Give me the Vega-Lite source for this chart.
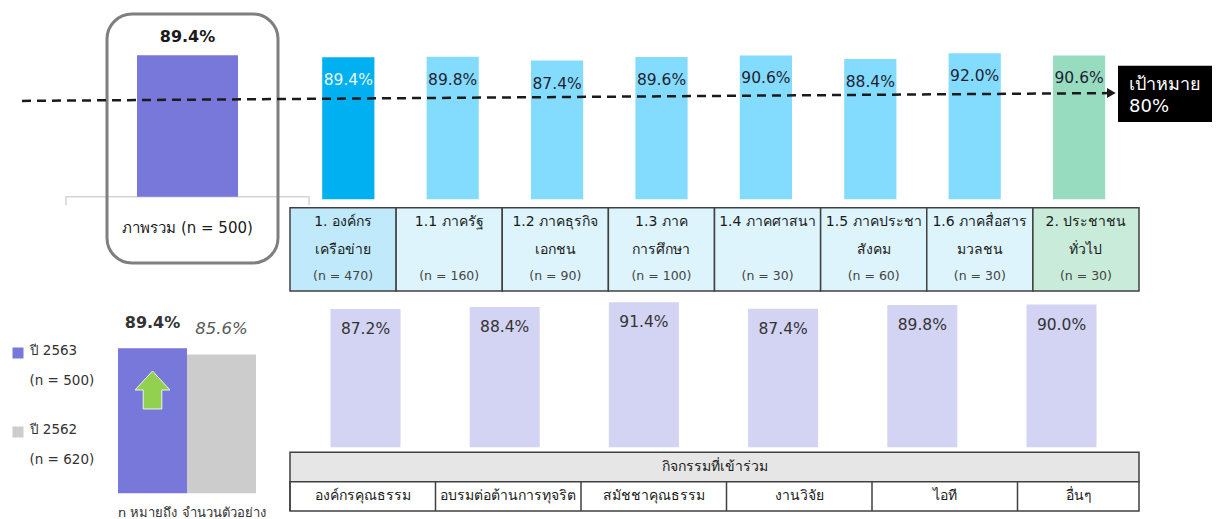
{
  "$schema": "https://vega.github.io/schema/vega-lite/v6.json",
  "width": 1223,
  "height": 519,
  "padding": 0,
  "autosize": {"type": "none"},
  "background": "white",
  "config": {"view": {"stroke": null}, "font": "DejaVu Sans", "text": {"font": "DejaVu Sans"}},
  "datasets": {
    "overall": [{"label": "ภาพรวม (n = 500)", "pct": 0.894}],
    "groups": [
      {"group": "1. องค์กรเครือข่าย", "lines": ["1. องค์กร", "เครือข่าย"], "n": "(n = 470)", "pct": 0.894, "kind": "องค์กรเครือข่าย"},
      {"group": "1.1 ภาครัฐ", "lines": ["1.1 ภาครัฐ", ""], "n": "(n = 160)", "pct": 0.898, "kind": "ภาคย่อย"},
      {"group": "1.2 ภาคธุรกิจเอกชน", "lines": ["1.2 ภาคธุรกิจ", "เอกชน"], "n": "(n = 90)", "pct": 0.874, "kind": "ภาคย่อย"},
      {"group": "1.3 ภาคการศึกษา", "lines": ["1.3 ภาค", "การศึกษา"], "n": "(n = 100)", "pct": 0.896, "kind": "ภาคย่อย"},
      {"group": "1.4 ภาคศาสนา", "lines": ["1.4 ภาคศาสนา", ""], "n": "(n = 30)", "pct": 0.906, "kind": "ภาคย่อย"},
      {"group": "1.5 ภาคประชาสังคม", "lines": ["1.5 ภาคประชา", "สังคม"], "n": "(n = 60)", "pct": 0.884, "kind": "ภาคย่อย"},
      {"group": "1.6 ภาคสื่อสารมวลชน", "lines": ["1.6 ภาคสื่อสาร", "มวลชน"], "n": "(n = 30)", "pct": 0.92, "kind": "ภาคย่อย"},
      {"group": "2. ประชาชนทั่วไป", "lines": ["2. ประชาชน", "ทั่วไป"], "n": "(n = 30)", "pct": 0.906, "kind": "ประชาชนทั่วไป"}
    ],
    "target": [{"label": "เป้าหมาย", "value": 0.8}],
    "activities": [
      {"activity": "องค์กรคุณธรรม", "pct": 0.872},
      {"activity": "อบรมต่อต้านการทุจริต", "pct": 0.884},
      {"activity": "สมัชชาคุณธรรม", "pct": 0.914},
      {"activity": "งานวิจัย", "pct": 0.874},
      {"activity": "ไอที", "pct": 0.898},
      {"activity": "อื่นๆ", "pct": 0.9}
    ],
    "header": [{"header": "กิจกรรมที่เข้าร่วม"}],
    "years": [
      {"year": "ปี 2563", "n": "(n = 500)", "pct": 0.894},
      {"year": "ปี 2562", "n": "(n = 620)", "pct": 0.856}
    ]
  },
  "resolve": {"scale": {"x": "independent", "y": "independent", "color": "independent"}},
  "layer": [
    {
      "data": {"name": "overall"},
      "encoding": {
        "x": {"field": "label", "type": "nominal", "sort": null, "axis": null, "scale": {"type": "band", "range": [137, 238], "paddingInner": 0, "paddingOuter": 0}}
      },
      "layer": [
        {
          "mark": {"type": "point", "shape": "M-1,0.07V0H1V0.07", "size": 59049, "filled": false, "stroke": "#d4d4d4", "strokeWidth": 1.5, "opacity": 1},
          "encoding": {"y": {"datum": 0, "type": "quantitative", "axis": null, "scale": {"domain": [0, 1], "range": [196.7, 38.5]}}}
        },
        {
          "mark": {"type": "bar", "color": "#7878db"},
          "encoding": {"y": {"field": "pct", "type": "quantitative", "axis": null, "scale": {"domain": [0, 1], "range": [196.7, 38.5]}}}
        },
        {
          "mark": {"type": "text", "fontSize": 16, "fontWeight": "bold", "dy": -18.5, "color": "#1a1a1a"},
          "encoding": {
            "y": {"field": "pct", "type": "quantitative", "axis": null, "scale": {"domain": [0, 1], "range": [196.7, 38.5]}},
            "text": {"field": "pct", "format": ".1%"}
          }
        },
        {
          "mark": {"type": "point", "shape": "M-0.555,-1.827H0.655A0.25,0.25 0 0 1 0.905,-1.577V0.413A0.25,0.25 0 0 1 0.655,0.663H-0.555A0.25,0.25 0 0 1 -0.805,0.413V-1.577A0.25,0.25 0 0 1 -0.555,-1.827Z", "size": 40000, "filled": false, "stroke": "#7f7f7f", "strokeWidth": 3, "opacity": 1},
          "encoding": {"y": {"datum": 0, "type": "quantitative", "axis": null, "scale": {"domain": [0, 1], "range": [196.7, 38.5]}}}
        },
        {
          "mark": {"type": "text", "fontSize": 15, "dy": 31.6, "color": "#1a1a1a"},
          "encoding": {
            "y": {"datum": 0, "type": "quantitative", "axis": null, "scale": {"domain": [0, 1], "range": [196.7, 38.5]}},
            "text": {"field": "label"}
          }
        }
      ]
    },
    {
      "data": {"name": "groups"},
      "encoding": {
        "x": {"field": "group", "type": "nominal", "sort": null, "axis": null, "scale": {"type": "band", "range": [296.1, 1131.3], "paddingInner": 0, "paddingOuter": 0}},
        "y": {"field": "pct", "type": "quantitative", "axis": null, "scale": {"domain": [0, 1], "range": [199.3, 40.5]}}
      },
      "layer": [
        {
          "mark": {"type": "bar", "width": {"band": 0.5}},
          "encoding": {"color": {"field": "kind", "type": "nominal", "legend": null, "scale": {"domain": ["องค์กรเครือข่าย", "ภาคย่อย", "ประชาชนทั่วไป"], "range": ["#00b0f0", "#83dcfe", "#97dcbf"]}}}
        },
        {
          "mark": {"type": "text", "fontSize": 15.5, "dy": 23},
          "encoding": {
            "text": {"field": "pct", "format": ".1%"},
            "color": {"condition": {"test": "datum.kind === 'องค์กรเครือข่าย'", "value": "#eaf8ff"}, "value": "#1f1f33"}
          }
        }
      ]
    },
    {
      "data": {"name": "groups"},
      "encoding": {
        "x": {"field": "group", "type": "nominal", "sort": null, "axis": null, "scale": {"type": "band", "range": [290, 1139], "paddingInner": 0, "paddingOuter": 0}},
        "y": {"datum": "กลุ่มผู้ตอบ", "type": "nominal", "axis": null, "scale": {"type": "band", "domain": ["กลุ่มผู้ตอบ"], "range": [207.7, 291], "paddingInner": 0, "paddingOuter": 0}}
      },
      "layer": [
        {
          "mark": {"type": "rect", "stroke": "#404040", "strokeWidth": 1.5},
          "encoding": {"color": {"field": "kind", "type": "nominal", "legend": null, "scale": {"domain": ["องค์กรเครือข่าย", "ภาคย่อย", "ประชาชนทั่วไป"], "range": ["#c0eafb", "#ddf4fd", "#c8ecd9"]}}}
        },
        {
          "mark": {"type": "text", "fontSize": 14, "lineHeight": 28.5, "dy": -27.7, "color": "#1a1a1a"},
          "encoding": {"text": {"field": "lines"}}
        },
        {
          "mark": {"type": "text", "fontSize": 12.5, "dy": 27, "color": "#444444"},
          "encoding": {"text": {"field": "n"}}
        }
      ]
    },
    {
      "data": {"name": "activities"},
      "encoding": {
        "x": {"field": "activity", "type": "nominal", "sort": null, "axis": null, "scale": {"type": "band", "range": [295.9, 1131.1], "paddingInner": 0, "paddingOuter": 0}},
        "y": {"field": "pct", "type": "quantitative", "axis": null, "scale": {"domain": [0, 1], "range": [447.3, 288.7]}}
      },
      "layer": [
        {"mark": {"type": "bar", "width": {"band": 0.503}, "color": "#d3d3f3"}},
        {
          "mark": {"type": "text", "fontSize": 15.5, "dy": 20, "color": "#333333"},
          "encoding": {"text": {"field": "pct", "format": ".1%"}}
        }
      ]
    },
    {
      "data": {"name": "header"},
      "encoding": {
        "x": {"field": "header", "type": "nominal", "axis": null, "scale": {"type": "band", "range": [290, 1139], "paddingInner": 0, "paddingOuter": 0}}
      },
      "layer": [
        {
          "mark": {"type": "rect", "fill": "#e6e6e6", "stroke": "#404040", "strokeWidth": 1.5},
          "encoding": {"y": {"field": "header", "type": "nominal", "axis": null, "scale": {"type": "band", "domain": ["กิจกรรมที่เข้าร่วม", "รายการ"], "range": [452.3, 511], "paddingInner": 0, "paddingOuter": 0}}}
        },
        {
          "mark": {"type": "rect", "fill": "#ffffff", "stroke": "#404040", "strokeWidth": 1.5},
          "encoding": {"y": {"datum": "รายการ", "type": "nominal", "axis": null, "scale": {"type": "band", "domain": ["กิจกรรมที่เข้าร่วม", "รายการ"], "range": [452.3, 511], "paddingInner": 0, "paddingOuter": 0}}}
        },
        {
          "mark": {"type": "text", "fontSize": 14, "color": "#1a1a1a"},
          "encoding": {
            "y": {"field": "header", "type": "nominal", "axis": null, "scale": {"type": "band", "domain": ["กิจกรรมที่เข้าร่วม", "รายการ"], "range": [452.3, 511], "paddingInner": 0, "paddingOuter": 0}},
            "text": {"field": "header"}
          }
        }
      ]
    },
    {
      "data": {"name": "activities"},
      "encoding": {
        "x": {"field": "activity", "type": "nominal", "sort": null, "axis": null, "scale": {"type": "band", "range": [290, 1163], "paddingInner": 0, "paddingOuter": 0}},
        "y": {"datum": "รายการ", "type": "nominal", "axis": null, "scale": {"type": "band", "domain": ["กิจกรรมที่เข้าร่วม", "รายการ"], "range": [452.3, 511], "paddingInner": 0, "paddingOuter": 0}}
      },
      "layer": [
        {
          "mark": {"type": "point", "shape": "M0,-1V1", "size": 861, "filled": false, "stroke": "#404040", "strokeWidth": 1.5, "opacity": 1},
          "encoding": {"x": {"field": "activity", "type": "nominal", "sort": null, "bandPosition": 0, "axis": null, "scale": {"type": "band", "range": [290, 1163], "paddingInner": 0, "paddingOuter": 0}}}
        },
        {
          "mark": {"type": "text", "fontSize": 14, "color": "#1a1a1a", "dx": {"expr": "datum.activity === 'อื่นๆ' ? -11.75 : 0"}},
          "encoding": {"text": {"field": "activity"}}
        }
      ]
    },
    {
      "data": {"name": "years"},
      "encoding": {
        "x": {"field": "year", "type": "nominal", "sort": null, "axis": null, "scale": {"type": "band", "range": [118, 256], "paddingInner": 0, "paddingOuter": 0}},
        "y": {"field": "pct", "type": "quantitative", "axis": null, "scale": {"domain": [0, 1], "range": [493.3, 331.1]}}
      },
      "layer": [
        {
          "mark": {"type": "bar"},
          "encoding": {"color": {"field": "year", "type": "nominal", "legend": null, "scale": {"domain": ["ปี 2563", "ปี 2562"], "range": ["#7878db", "#cccccc"]}}}
        },
        {
          "transform": [{"filter": "datum.year === 'ปี 2563'"}],
          "mark": {"type": "text", "fontSize": 16, "fontWeight": "bold", "dy": -25, "color": "#333333"},
          "encoding": {"text": {"field": "pct", "format": ".1%"}}
        },
        {
          "transform": [{"filter": "datum.year === 'ปี 2562'"}],
          "mark": {"type": "text", "fontSize": 16.5, "fontStyle": "italic", "dy": -25.7, "color": "#595959"},
          "encoding": {"text": {"field": "pct", "format": ".1%"}}
        },
        {
          "transform": [{"filter": "datum.year === 'ปี 2563'"}],
          "mark": {"type": "point", "shape": "M0,0.757L0.583,1.39L0.31,1.39L0.31,2.023L-0.31,2.023L-0.31,1.39L-0.583,1.39Z", "size": 3600, "filled": true, "color": "#92d050", "stroke": "#eef7e6", "strokeWidth": 1, "opacity": 1}
        },
        {
          "transform": [{"filter": "datum.year === 'ปี 2563'"}],
          "mark": {"type": "text", "fontSize": 13, "align": "left", "dy": 20, "color": "#333333"},
          "encoding": {
            "x": {"field": "year", "type": "nominal", "sort": null, "bandPosition": 0, "axis": null, "scale": {"type": "band", "range": [118, 256], "paddingInner": 0, "paddingOuter": 0}},
            "y": {"datum": 0, "type": "quantitative", "axis": null, "scale": {"domain": [0, 1], "range": [493.3, 331.1]}},
            "text": {"value": "n หมายถึง จำนวนตัวอย่าง"}
          }
        }
      ]
    },
    {
      "data": {"name": "years"},
      "encoding": {
        "x": {"datum": "ปี", "type": "nominal", "axis": null, "scale": {"type": "band", "domain": ["ปี"], "range": [12, 24], "paddingInner": 0, "paddingOuter": 0}},
        "y": {"field": "year", "type": "nominal", "sort": null, "axis": null, "scale": {"type": "point", "domain": ["ปี 2563", "ปี 2562"], "range": [353, 432], "padding": 0}}
      },
      "layer": [
        {
          "mark": {"type": "square", "size": 121, "opacity": 1},
          "encoding": {"color": {"field": "year", "type": "nominal", "legend": null, "scale": {"domain": ["ปี 2563", "ปี 2562"], "range": ["#7878db", "#cccccc"]}}}
        },
        {
          "mark": {"type": "text", "align": "left", "dx": 11.5, "dy": -2, "fontSize": 13.5, "color": "#333333"},
          "encoding": {"text": {"field": "year"}}
        },
        {
          "mark": {"type": "text", "align": "left", "dx": 11.5, "dy": 27.5, "fontSize": 13.5, "color": "#333333"},
          "encoding": {"text": {"field": "n"}}
        }
      ]
    },
    {
      "data": {"name": "target"},
      "encoding": {
        "x": {"field": "label", "type": "nominal", "axis": null, "scale": {"type": "band", "range": [1118, 1212], "paddingInner": 0, "paddingOuter": 0}},
        "y": {"field": "value", "type": "quantitative", "axis": null, "scale": {"domain": [0, 1], "range": [199.3, 69.55]}}
      },
      "layer": [
        {
          "mark": {"type": "point", "shape": "M-1.905,0.009L-0.095,-0.004", "size": 1440000, "filled": false, "stroke": "#1a1a1a", "strokeWidth": 2.5, "strokeDash": [9, 6], "opacity": 1}
        },
        {
          "mark": {"type": "point", "shape": "M-0.986,-0.05L-1.16,-0.15L-1.16,0.05Z", "size": 10000, "filled": true, "color": "#1a1a1a", "opacity": 1}
        },
        {
          "mark": {"type": "point", "shape": "M-0.94,-0.596H0.94V0.53H-0.94Z", "size": 10000, "filled": true, "color": "#000000", "opacity": 1}
        },
        {
          "mark": {"type": "text", "align": "left", "dx": -36, "dy": -10.5, "fontSize": 18, "color": "#ffffff"},
          "encoding": {"text": {"field": "label"}}
        },
        {
          "mark": {"type": "text", "align": "left", "dx": -36, "dy": 11.2, "fontSize": 18, "color": "#ffffff"},
          "encoding": {"text": {"field": "value", "format": ".0%"}}
        }
      ]
    }
  ]
}
